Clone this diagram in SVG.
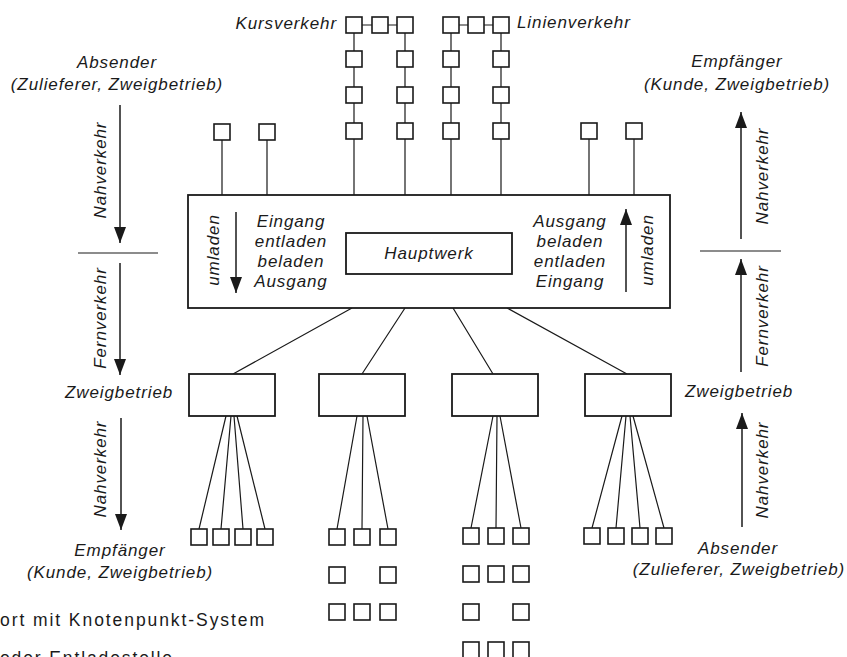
<svg xmlns="http://www.w3.org/2000/svg" width="847" height="657" viewBox="0 0 847 657">
<style>
  .t{font-family:"Liberation Sans",Arial,sans-serif;font-style:italic;font-size:17px;letter-spacing:0.9px;fill:#1a1a1a}
  .m{text-anchor:middle}
  .cap{font-family:"Liberation Sans",Arial,sans-serif;font-size:17.5px;fill:#1a1a1a}
  .box{fill:#fff;stroke:#1a1a1a;stroke-width:1.8}
  .sq{fill:#fff;stroke:#1a1a1a;stroke-width:1.6}
  .ln{stroke:#1a1a1a;stroke-width:1.2;fill:none}
  .ar{stroke:#1a1a1a;stroke-width:1.5;fill:none;marker-end:url(#ah)}
</style>
<defs>
  <marker id="ah" markerUnits="userSpaceOnUse" markerWidth="16" markerHeight="12" refX="16" refY="6" orient="auto">
    <path d="M0,0 L16,6 L0,12 z" fill="#1a1a1a"/>
  </marker>
  <rect id="s" width="16" height="16" class="sq"/>
</defs>
<rect width="847" height="657" fill="#fff"/>

<g id="connectors">
  <path class="ln" d="M362,25H372M388,25H397M459,25H468M484,25H493"/>
  <path class="ln" d="M354,33V51M354,67V87M354,103V123M354,139V195"/>
  <path class="ln" d="M405,33V51M405,67V87M405,103V123M405,139V195"/>
  <path class="ln" d="M451,33V51M451,67V87M451,103V123M451,139V195"/>
  <path class="ln" d="M501,33V51M501,67V87M501,103V123M501,139V195"/>
  <path class="ln" d="M222,140V195M267,140V195M589,139V195M634,139V195"/>
  <path class="ln" d="M352,308L233,374M405,308L362,374M453,308L493,374M507,308L627,374"/>
  <path class="ln" d="M226,416L199,529M231,416L221,529M234,416L243,529M237,416L265,529"/>
  <path class="ln" d="M357,416L337,529M363,416L362,529M367,416L388,529"/>
  <path class="ln" d="M493,416L471,528M497,416L496,528M500,416L521,528"/>
  <path class="ln" d="M622,416L592,528M626,416L616,528M630,416L640,528M633,416L664,528"/>
  <line class="ar" x1="120" y1="105" x2="120" y2="243"/>
  <line class="ln" x1="78" y1="253" x2="158" y2="253" stroke-width="1.5"/>
  <line class="ar" x1="120" y1="263" x2="120" y2="375"/>
  <line class="ar" x1="121" y1="418" x2="121" y2="530"/>
  <line class="ar" x1="741" y1="239" x2="741" y2="112"/>
  <line class="ln" x1="700" y1="251" x2="781" y2="251" stroke-width="1.5"/>
  <line class="ar" x1="741" y1="372" x2="741" y2="259"/>
  <line class="ar" x1="742" y1="527" x2="742" y2="413"/>
</g>

<g id="hauptwerk">
  <rect class="box" x="188" y="195" width="482" height="113"/>
  <rect class="box" x="346" y="233" width="166" height="41"/>
  <text class="t m" x="429" y="259">Hauptwerk</text>
  <line class="ar" x1="236" y1="212" x2="236" y2="293"/>
  <line class="ar" x1="626" y1="292" x2="626" y2="209"/>
  <text class="t m" transform="translate(219,250) rotate(-90)">umladen</text>
  <text class="t m" transform="translate(653,250) rotate(-90)">umladen</text>
  <text class="t m" x="291" y="227">Eingang</text>
  <text class="t m" x="291" y="247">entladen</text>
  <text class="t m" x="291" y="267">beladen</text>
  <text class="t m" x="291" y="287">Ausgang</text>
  <text class="t m" x="570" y="227">Ausgang</text>
  <text class="t m" x="570" y="247">beladen</text>
  <text class="t m" x="570" y="267">entladen</text>
  <text class="t m" x="570" y="287">Eingang</text>
</g>

<g id="kursverkehr">
  <text class="t" x="337" y="29" text-anchor="end">Kursverkehr</text>
  <use href="#s" x="346" y="17"/><use href="#s" x="372" y="17"/><use href="#s" x="397" y="17"/>
  <use href="#s" x="346" y="51"/><use href="#s" x="346" y="87"/><use href="#s" x="346" y="123"/>
  <use href="#s" x="397" y="51"/><use href="#s" x="397" y="87"/><use href="#s" x="397" y="123"/>
</g>
<g id="linienverkehr">
  <text class="t" x="517" y="28">Linienverkehr</text>
  <use href="#s" x="443" y="17"/><use href="#s" x="468" y="17"/><use href="#s" x="493" y="17"/>
  <use href="#s" x="443" y="51"/><use href="#s" x="443" y="87"/><use href="#s" x="443" y="123"/>
  <use href="#s" x="493" y="51"/><use href="#s" x="493" y="87"/><use href="#s" x="493" y="123"/>
</g>
<g id="nahknoten-oben">
  <use href="#s" x="214" y="124"/><use href="#s" x="259" y="124"/>
  <use href="#s" x="581" y="123"/><use href="#s" x="626" y="123"/>
</g>

<g id="zweig1">
  <rect class="box" x="189" y="374" width="86" height="42"/>
  <use href="#s" x="191" y="529"/><use href="#s" x="213" y="529"/><use href="#s" x="235" y="529"/><use href="#s" x="257" y="529"/>
</g>
<g id="zweig2">
  <rect class="box" x="319" y="374" width="86" height="42"/>
  <use href="#s" x="329" y="529"/><use href="#s" x="354" y="529"/><use href="#s" x="380" y="529"/>
  <use href="#s" x="329" y="567"/><use href="#s" x="380" y="567"/>
  <use href="#s" x="329" y="604"/><use href="#s" x="354" y="604"/><use href="#s" x="380" y="604"/>
</g>
<g id="zweig3">
  <rect class="box" x="452" y="374" width="86" height="42"/>
  <use href="#s" x="463" y="528"/><use href="#s" x="488" y="528"/><use href="#s" x="513" y="528"/>
  <use href="#s" x="463" y="566"/><use href="#s" x="488" y="566"/><use href="#s" x="513" y="566"/>
  <use href="#s" x="463" y="604"/><use href="#s" x="513" y="604"/>
  <use href="#s" x="463" y="642"/><use href="#s" x="488" y="642"/><use href="#s" x="513" y="642"/>
</g>
<g id="zweig4">
  <rect class="box" x="585" y="374" width="86" height="42"/>
  <use href="#s" x="584" y="528"/><use href="#s" x="608" y="528"/><use href="#s" x="632" y="528"/><use href="#s" x="656" y="528"/>
</g>

<g id="labels-left">
  <text class="t m" x="117" y="68">Absender</text>
  <text class="t m" x="117" y="90">(Zulieferer, Zweigbetrieb)</text>
  <text class="t m" transform="translate(106,170) rotate(-90)">Nahverkehr</text>
  <text class="t m" transform="translate(106,318) rotate(-90)">Fernverkehr</text>
  <text class="t" x="65" y="398">Zweigbetrieb</text>
  <text class="t m" transform="translate(106,469) rotate(-90)">Nahverkehr</text>
  <text class="t m" x="120" y="556">Empfänger</text>
  <text class="t m" x="120" y="578">(Kunde, Zweigbetrieb)</text>
</g>
<g id="labels-right">
  <text class="t m" x="737" y="67">Empfänger</text>
  <text class="t m" x="737" y="90">(Kunde, Zweigbetrieb)</text>
  <text class="t m" transform="translate(768,176) rotate(-90)">Nahverkehr</text>
  <text class="t m" transform="translate(768,316) rotate(-90)">Fernverkehr</text>
  <text class="t" x="685" y="397">Zweigbetrieb</text>
  <text class="t m" transform="translate(768,470) rotate(-90)">Nahverkehr</text>
  <text class="t m" x="738" y="554">Absender</text>
  <text class="t m" x="739" y="575">(Zulieferer, Zweigbetrieb)</text>
</g>

<g id="caption">
  <text class="cap" x="0" y="626" textLength="264" lengthAdjust="spacing">ort mit Knotenpunkt-System</text>
  <text class="cap" x="0" y="664" textLength="172" lengthAdjust="spacing">oder Entladestelle</text>
</g>
</svg>
